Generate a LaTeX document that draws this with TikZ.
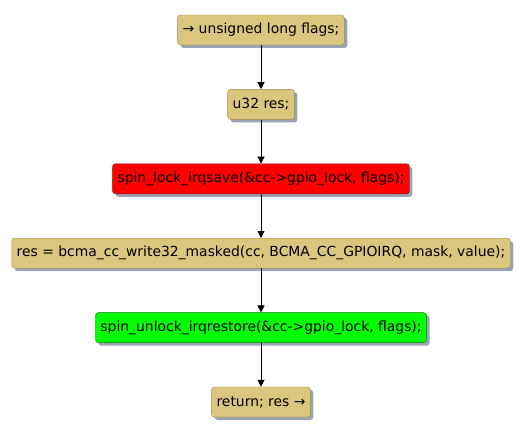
\documentclass[tikz,border=0pt]{standalone}
\usepackage{fontspec}
\setmainfont{DejaVu Sans}
\usepackage{tikz}
\usetikzlibrary{arrows.meta,positioning,shadows}

\definecolor{actfill}{HTML}{DBC67E}
\definecolor{actline}{HTML}{A08A40}
\definecolor{shadowcol}{HTML}{9AA4B4}

\begin{document}
\begin{tikzpicture}[
  x=1pt, y=-1pt,
  act/.style={
    draw=actline,
    fill=actfill,
    rounded corners=3pt,
    minimum height=30pt,
    inner xsep=5pt,
    drop shadow={shadow xshift=3pt, shadow yshift=-3pt, fill=shadowcol, opacity=1}
  },
  arr/.style={-{Triangle[length=7pt,width=7pt]}, line width=0.8pt},
  node distance=44pt,
  font=\fontsize{13.9}{15}\selectfont
]
\useasboundingbox (0,0) rectangle (526,433);

\node[act] (flags) at (261,30) {→ unsigned long flags;};
\node[act, below=of flags] (res) {u32 res;};
\node[act, below=of res, fill=red, draw=red!60!black] (lock) {spin\_lock\_irqsave(\&cc->gpio\_lock, flags);};
\node[act, below=of lock] (write) {res = bcma\_cc\_write32\_masked(cc, BCMA\_CC\_GPIOIRQ, mask, value);};
\node[act, below=of write, fill=green, draw=green!50!black] (unlock) {spin\_unlock\_irqrestore(\&cc->gpio\_lock, flags);};
\node[act, below=of unlock] (ret) {return; res →};

\draw[arr] (flags) -- (res);
\draw[arr] (res) -- (lock);
\draw[arr] (lock) -- (write);
\draw[arr] (write) -- (unlock);
\draw[arr] (unlock) -- (ret);
\end{tikzpicture}
\end{document}
